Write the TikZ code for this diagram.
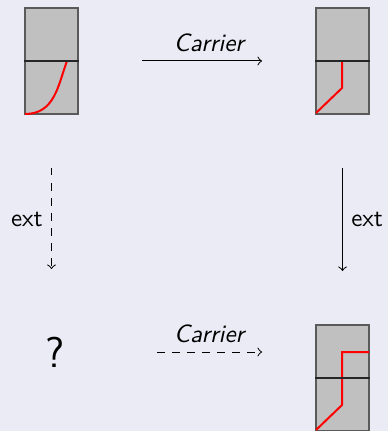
\documentclass[tikz,border=0pt]{standalone}
\usepackage{tikz}
\usetikzlibrary{positioning}
\definecolor{fondSlide}{RGB}{235,235,245}
\definecolor{grisBoite}{RGB}{192,192,192}
\definecolor{grisBord}{RGB}{90,90,90}
\tikzset{boite/.style={draw=grisBord, fill=grisBoite, line width=0.8pt,
                       minimum width=21.2pt, minimum height=42.4pt, inner sep=0pt},
         milieu/.style={black!85, line width=0.6pt},
         chemin/.style={red, line width=0.8pt}}

\begin{document}
\begin{tikzpicture}[x=0.4pt, y=-0.4pt, font=\sffamily]

\fill[fondSlide] (0,0) rectangle (388,431);
\useasboundingbox (0,0) rectangle (388,431);

\node[boite] (gauche) at (51.5,61) {};
\node[boite] (droite) at (342.5,61) {};
\node[boite] (bas) at (342.5,378) {};
\node[font=\sffamily\LARGE] (inconnu) at (55,352) {?};

\draw[chemin] (25,114) .. controls (55,114) and (58,85) .. (67,61);
\draw[chemin] (316,113) -- (342,88) -- (342,61);
\draw[chemin] (316,430) -- (342,405) -- (342,352) -- (369,352);

\draw[milieu] (gauche.west) -- (gauche.east);
\draw[milieu] (droite.west) -- (droite.east);
\draw[milieu] (bas.west) -- (bas.east);

\draw[->, shorten <=25.2pt, shorten >=21.2pt] (gauche) -- node[above, pos=0.555] {\textit{Carrier}} (droite);
\draw[->, dashed, shorten <=21.2pt, shorten >=22pt] (gauche) -- node[left] {ext} (gauche |- bas.north);
\draw[->, shorten <=21.2pt, shorten >=21.2pt] (droite) -- node[right] {ext} (bas);
\draw[->, dashed, shorten <=40.8pt, shorten >=21.2pt] (inconnu.center) -- node[above, pos=0.597] {\textit{Carrier}} (inconnu -| bas.west);

\end{tikzpicture}
\end{document}
